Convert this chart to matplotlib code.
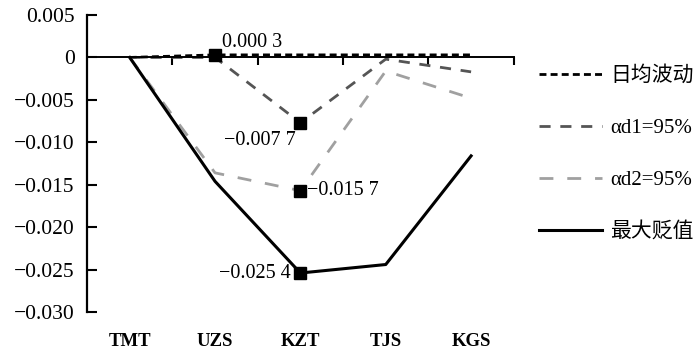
import numpy as np
import matplotlib
matplotlib.use('Agg')
import matplotlib.pyplot as plt
from matplotlib.ticker import FuncFormatter

# 各币种汇率风险测度
currencies = ['TMT', 'UZS', 'KZT', 'TJS', 'KGS']
daily_fluct = [0.0, 0.0003, 0.0003, 0.0003, 0.0003]     # 日均波动
var_d1 = [0.0, 0.0, -0.0077, -0.0002, -0.0017]           # αd1=95%
var_d2 = [0.0, -0.0136, -0.0157, -0.0016, -0.0048]       # αd2=95%
max_depr = [0.0, -0.0146, -0.0254, -0.0244, -0.0116]     # 最大贬值

series_names = ['日均波动', 'αd1=95%', 'αd2=95%', '最大贬值']
yticks = [0.005, 0, -0.005, -0.010, -0.015, -0.020, -0.025, -0.030]

plt.rcParams['font.family'] = ['Liberation Serif', 'Noto Sans CJK SC']
plt.rcParams['axes.unicode_minus'] = True


def fmt_val(v):
    # 0.0003 -> "0.000 3"
    s = f"{abs(v):.4f}"
    s = s[:-1] + ' ' + s[-1]
    return ('\u2212' if v < 0 else '') + s


fig = plt.figure(figsize=(6.99, 3.53), dpi=100)
ax = fig.add_axes([0.1245, 0.116, 0.6105, 0.8415])
x = np.arange(len(currencies))

ax.plot(x, daily_fluct, color='black', lw=2, ls=(0, (2.5, 1.5)), label=series_names[0])
ax.plot(x, var_d1, color='#555555', lw=2, ls=(0, (4, 3.5)), label=series_names[1])
ax.plot(x, var_d2, color='#a0a0a0', lw=2, ls=(0, (5, 5)), label=series_names[2])
ax.plot(x, max_depr, color='black', lw=2.2, label=series_names[3])

# 标注点
i_uzs = currencies.index('UZS')
i_kzt = currencies.index('KZT')
pts = [(i_uzs, daily_fluct[i_uzs]), (i_kzt, var_d1[i_kzt]),
       (i_kzt, var_d2[i_kzt]), (i_kzt, max_depr[i_kzt])]
for px, py in pts:
    ax.plot(px, py, marker='s', color='black', ms=9, ls='none', zorder=5)

fs_note = 14.5
ax.annotate(fmt_val(daily_fluct[i_uzs]), (i_uzs, daily_fluct[i_uzs]), xytext=(5, 2),
            textcoords='offset points', ha='left', va='bottom', fontsize=fs_note)
ax.annotate(fmt_val(var_d1[i_kzt]), (i_kzt, var_d1[i_kzt]), xytext=(-3, -13),
            textcoords='offset points', ha='right', va='center', fontsize=fs_note)
ax.annotate(fmt_val(var_d2[i_kzt]), (i_kzt, var_d2[i_kzt]), xytext=(5, 0),
            textcoords='offset points', ha='left', va='center', fontsize=fs_note)
ax.annotate(fmt_val(max_depr[i_kzt]), (i_kzt, max_depr[i_kzt]), xytext=(-7, 0),
            textcoords='offset points', ha='right', va='center', fontsize=fs_note)

ax.set_xlim(-0.5, len(currencies) - 0.5)
ax.set_ylim(-0.030, 0.005)
ax.set_yticks(yticks)
ax.yaxis.set_major_formatter(FuncFormatter(lambda v, p: '0' if abs(v) < 1e-9 else f"{v:.3f}".replace('-', '\u2212')))
ax.tick_params(axis='y', direction='in', length=7, width=1.5, labelsize=15.5, pad=9)

# 横轴画在零线处，刻度在类别分界
ax.spines['top'].set_visible(False)
ax.spines['right'].set_visible(False)
ax.spines['left'].set_linewidth(1.6)
ax.spines['bottom'].set_position(('data', 0))
ax.spines['bottom'].set_linewidth(1.4)
ax.set_xticks(x + 0.5)
ax.set_xticklabels([])
ax.tick_params(axis='x', direction='out', length=6, width=1.5)

sec = ax.secondary_xaxis('bottom')
sec.set_xticks(x)
sec.set_xticklabels(currencies, fontweight='bold', fontsize=13.5)
sec.spines['bottom'].set_visible(False)
sec.tick_params(length=0, pad=15)

ax.legend(loc='upper left', bbox_to_anchor=(1.04, 0.855), frameon=False, fontsize=15,
          handlelength=3.0, handletextpad=0.4, labelspacing=1.55, borderaxespad=0)

fig.savefig('out.png', dpi=100)
